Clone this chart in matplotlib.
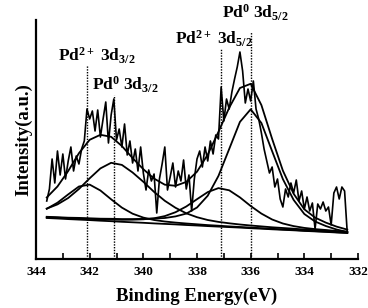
import numpy as np
import matplotlib
matplotlib.use('Agg')
import matplotlib.pyplot as plt

plt.rcParams['font.family'] = ['Liberation Serif', 'DejaVu Serif']
plt.rcParams['font.weight'] = 'bold'
plt.rcParams['mathtext.fontset'] = 'custom'
plt.rcParams['mathtext.rm'] = 'Liberation Serif:bold'
plt.rcParams['mathtext.it'] = 'Liberation Serif:bold'
plt.rcParams['mathtext.bf'] = 'Liberation Serif:bold'
plt.rcParams['mathtext.default'] = 'rm'

# raw spectrum, 343.6 -> 332.4 eV, 0.1 eV step
raw_start, raw_step = 343.6, 0.1
raw_counts = [58, 70, 100, 76, 108, 84, 105, 80, 98, 112,
              88, 103, 95, 110, 118, 150, 140, 148, 128, 149,
              122, 140, 157, 116, 144, 160, 119, 130, 112, 135,
              104, 118, 96, 110, 88, 112, 86, 69, 89, 78,
              85, 46, 80, 95, 112, 69, 82, 96, 72, 88,
              78, 99, 70, 84, 48, 80, 100, 108, 92, 112,
              98, 118, 105, 124, 120, 172, 138, 160, 150, 167,
              180, 192, 207, 188, 156, 170, 158, 178, 150, 140,
              126, 110, 98, 86, 92, 72, 80, 60, 52, 70,
              62, 76, 66, 79, 58, 68, 50, 62, 48, 56,
              30, 55, 50, 57, 48, 52, 34, 66, 72, 60,
              72, 68, 26]

# fitted curves, 343.6 -> 332.4 eV, 0.4 eV step
fit_start, fit_step = 343.6, 0.4
background = [41.0, 40.5, 39.9, 39.4, 38.9, 38.3, 37.8, 37.2, 36.7, 36.2,
              35.6, 35.1, 34.6, 34.0, 33.5, 32.9, 32.4, 31.9, 31.4, 30.8,
              30.3, 29.7, 29.2, 28.7, 28.1, 27.6, 27.1, 26.5, 26.0]
pd2_32 = [50.2, 56.3, 64.6, 72.5, 74.4, 68.5, 59.7, 51.4, 45.3, 41.4,
          39.0, 37.5, 36.4, 35.5, 34.7, 33.9, 33.3, 32.6, 32.0, 31.4,
          30.8, 30.2, 29.6, 29.1, 28.4, 27.9, 27.4, 26.8, 26.2]
pd0_32 = [50.4, 54.6, 61.0, 70.0, 80.7, 90.6, 96.2, 94.1, 86.5, 77.2,
          67.1, 58.2, 51.2, 45.7, 41.8, 39.0, 37.1, 35.7, 34.5, 33.5,
          32.6, 31.7, 31.0, 30.3, 29.5, 28.9, 28.3, 27.6, 26.9]
pd2_52 = [41.7, 41.3, 40.8, 40.4, 40.1, 39.7, 39.5, 39.2, 39.3, 39.7,
          40.7, 42.9, 46.8, 52.5, 59.8, 66.9, 70.9, 68.7, 61.6, 53.0,
          45.4, 39.5, 35.5, 32.9, 31.1, 29.9, 29.0, 28.0, 27.3]
pd0_52 = [42.2, 41.8, 41.3, 41.1, 40.7, 40.3, 40.2, 39.9, 39.9, 40.1,
          40.4, 41.0, 42.6, 45.4, 51.5, 63.3, 83.1, 110.0, 137.1, 149.7,
          136.0, 107.8, 79.9, 59.1, 45.0, 37.5, 33.0, 29.5, 27.0]
envelope = [61.5, 72.5, 88.0, 105.8, 119.2, 124.2, 122.2, 113.0, 100.9, 89.8,
            80.4, 74.3, 73.2, 77.1, 87.3, 104.4, 127.2, 151.3, 171.0, 175.2,
            153.9, 120.1, 88.4, 65.3, 49.7, 41.4, 36.4, 32.4, 29.4]

peak_pos = [342.1, 341.1, 337.1, 336.0]
line_tops = [194, 164, 210, 227]
labels = [r'Pd$^{2+}$ 3d$_{3/2}$', r'Pd$^{0}$ 3d$_{3/2}$',
          r'Pd$^{2+}$ 3d$_{5/2}$', r'Pd$^{0}$ 3d$_{5/2}$']
label_xy = [(343.18, 198), (341.92, 169), (338.81, 215), (337.07, 241)]

E_raw = raw_start - raw_step * np.arange(len(raw_counts))
E_fit = fit_start - fit_step * np.arange(len(envelope))

fig = plt.figure(figsize=(3.68, 3.08), dpi=100)
ax = fig.add_axes([36 / 368, 49 / 308, 322 / 368, 239 / 308])

ax.plot(E_raw, raw_counts, color='black', lw=1.2)
for curve in [background, pd2_32, pd0_32, pd2_52, pd0_52, envelope]:
    ax.plot(E_fit, curve, color='black', lw=1.3)

for p, top in zip(peak_pos, line_tops):
    ax.plot([p, p], [0, top], color='black', lw=1.0, ls=(0, (1, 1)))

for lab, (x, y) in zip(labels, label_xy):
    ax.text(x, y, lab, fontsize=12.5, fontweight='bold', ha='left',
            va='baseline', clip_on=False)

ax.set_xlim(344, 332)
ax.set_ylim(0, 239)
ax.set_xticks([344, 342, 340, 338, 336, 334, 332])
ax.set_xticks([343, 341, 339, 337, 335, 333], minor=True)
ax.tick_params(axis='x', which='both', direction='in', length=4, width=1.2,
               labelsize=9.5, pad=5)
ax.set_yticks([])
for s in ['top', 'right']:
    ax.spines[s].set_visible(False)
for s in ['left', 'bottom']:
    ax.spines[s].set_linewidth(1.6)

ax.set_xlabel('Binding Energy(eV)', fontsize=13.5, fontweight='bold', labelpad=7)
ax.set_ylabel('Intensity(a.u.)', fontsize=13.5, fontweight='bold', labelpad=3)

fig.savefig('out.png', dpi=100)
